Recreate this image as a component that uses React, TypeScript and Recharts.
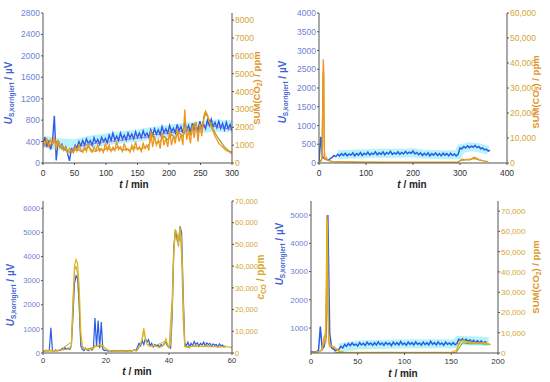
import React from "react";
import { LineChart, Line, XAxis, YAxis } from "recharts";

// ---------- panel 1 (t 0–300 min) ----------
const p1Step = 3;
const p1Blue = [
  350, 480, 300, 420, 250, 380, 880, 50, 420, 300, 350, 250, 300, 180, 40, 260, 200, 330, 280, 400,
  320, 420, 330, 450, 360, 420, 330, 470, 380, 440, 350, 480, 400, 460, 380, 520, 420, 560, 430, 500,
  420, 560, 450, 520, 430, 560, 470, 540, 450, 580, 480, 560, 470, 600, 500, 560, 480, 620, 520, 640,
  540, 620, 530, 680, 560, 640, 560, 700, 580, 650, 560, 720, 600, 680, 560, 760, 600, 700, 580, 740,
  620, 700, 600, 780, 650, 720, 640, 800, 700, 820, 680, 760, 660, 780, 650, 740, 620, 760, 640, 720,
  600,
];
const p1Orange = [
  1200, 1000, 1400, 900, 1300, 1100, 1500, 700, 1300, 900, 1000, 700, 900, 600, 800, 700, 600, 900, 650, 1000,
  700, 600, 900, 650, 1100, 700, 600, 900, 700, 1000, 650, 800, 600, 1100, 700, 1000, 650, 900, 700, 1200,
  750, 900, 650, 1100, 700, 800, 600, 1000, 700, 1200, 750, 900, 650, 1100, 800, 1000, 700, 1800, 900, 1500,
  1000, 1300, 800, 1700, 1000, 1400, 900, 1800, 1000, 1500, 1100, 1900, 1200, 1600, 1000, 3000, 1300, 1800, 1100, 2100,
  1400, 2300, 1200, 2200, 1500, 2600, 2900, 2700, 2300, 2000, 1800, 1500, 1300, 1100, 1000, 900, 800, 700, 650, 600,
  500,
];
const p1OliveStep = 6;
const p1Olive = [
  1000, 1200, 1000, 1300, 1100, 800, 700, 600, 650, 800, 650, 750, 900, 700, 650, 800, 700, 850, 700, 800,
  900, 700, 800, 700, 900, 800, 800, 900, 1000, 1600, 1100, 1200, 1500, 1300, 1600, 1400, 1700, 1500, 2000, 1600,
  2200, 1700, 2000, 2800, 2400, 1900, 1500, 1200, 900, 700, 600,
];
const p1Purple = [
  300, 350, 300, 400, 350, 280, 250, 220, 280, 300, 330, 320, 360, 340, 380, 360, 400, 380, 420, 400,
  430, 420, 450, 440, 470, 460, 480, 470, 500, 520, 540, 530, 560, 550, 570, 560, 600, 580, 620, 600,
  640, 620, 660, 700, 720, 690, 680, 660, 650, 640, 620,
];
const p1CyanT = [0, 25, 50, 75, 100, 125, 150, 175, 200, 225, 250, 275, 300];
const p1Cyan = [400, 350, 330, 400, 440, 480, 510, 560, 600, 640, 670, 700, 680];

// ---------- panel 2 (t 0–365 min) ----------
const p2Step = 4;
const p2Blue = [
  50, 700, 150, 120, 90, 80, 120, 150, 200, 170, 230, 190, 250, 200, 260, 190, 240, 210, 270, 190,
  250, 210, 280, 200, 260, 220, 290, 210, 260, 230, 300, 220, 270, 230, 300, 220, 280, 240, 310, 230,
  270, 240, 300, 230, 280, 240, 310, 250, 290, 260, 320, 240, 280, 220, 270, 200, 260, 210, 270, 190,
  250, 210, 270, 200, 250, 190, 260, 210, 250, 190, 260, 200, 240, 190, 230, 400, 380, 440, 400, 460,
  410, 450, 420, 470, 410, 440, 380, 400, 350, 370, 320, 340,
];
const p2CyanT = [40, 60, 80, 100, 120, 140, 160, 180, 200, 220, 240, 260, 280, 296, 302, 320, 340, 360];
const p2Cyan = [220, 230, 240, 250, 260, 260, 260, 260, 270, 240, 230, 220, 220, 220, 380, 430, 410, 340];
const p2OrangeT = [0, 5, 7, 8, 9, 10, 11, 12, 14, 16, 18, 20, 25, 30, 40, 50, 60, 70, 80, 100, 120, 150, 200, 250, 295, 300, 305, 310, 315, 320, 325, 330, 335, 340, 345, 350, 355, 360];
const p2Orange = [500, 800, 3000, 30000, 41500, 38000, 10000, 2000, 1500, 2200, 1200, 900, 600, 500, 400, 600, 400, 500, 350, 300, 300, 250, 250, 250, 250, 1000, 1500, 1300, 1600, 1400, 1800, 2300, 2000, 1400, 1200, 900, 700, 600];
const p2OliveT = [0, 6, 8, 9, 10, 11, 12, 15, 20, 30, 50, 80, 150, 295, 300, 310, 320, 330, 340, 350, 360];
const p2Olive = [400, 1500, 25000, 37000, 36000, 9000, 1500, 1500, 1000, 600, 500, 400, 300, 300, 900, 1200, 1200, 1800, 1200, 800, 600];

// ---------- panel 3 (t 0–60 min) ----------
const p3Step = 0.5;
const p3Blue = [
  100, 80, 120, 90, 110, 1050, 100, 80, 130, 90, 120, 100, 180, 140, 220, 160, 200, 150, 300, 1500,
  2900, 3200, 3100, 2000, 300, 150, 100, 200, 120, 100, 180, 120, 200, 1450, 250, 1350, 200, 1280, 150, 100,
  120, 80, 100, 90, 70, 110, 80, 100, 70, 90, 110, 80, 100, 70, 90, 110, 80, 100, 130, 90,
  250, 400, 300, 500, 350, 600, 450, 550, 300, 400, 250, 350, 280, 330, 250, 350, 300, 400, 450, 300,
  250, 200, 1500, 4200, 5100, 4800, 4600, 5250, 5000, 2500, 400, 300, 450, 250, 400, 300, 480, 350, 420, 280,
  400, 330, 450, 300, 420, 350, 400, 280, 380, 320, 350, 250, 380, 300, 330, 250, 300,
];
const p3YellowT = [0, 2, 4, 6, 8, 9, 9.5, 10, 10.5, 11, 11.5, 12, 12.5, 14, 16, 16.5, 17, 18, 19, 20, 22, 24, 26, 28, 30, 31, 31.5, 32, 32.5, 33, 34, 35, 36, 37, 38, 38.5, 39, 39.5, 40, 40.5, 41, 41.5, 42, 42.5, 43, 43.5, 44, 44.5, 45, 46, 48, 50, 52, 54, 56, 58, 60];
const p3Yellow = [1000, 1200, 1000, 1500, 1800, 3000, 20000, 40000, 43000, 41000, 30000, 10000, 3000, 1500, 2000, 3500, 3000, 4000, 3500, 1500, 1000, 900, 900, 900, 1500, 4000, 7000, 11500, 7000, 4000, 3000, 3500, 3000, 2500, 3500, 4000, 6500, 4000, 2500, 4000, 20000, 45000, 57000, 55000, 51000, 58000, 52000, 25000, 3000, 2500, 3500, 3000, 3500, 3000, 2800, 3000, 2500];
const p3OliveT = [0, 5, 9, 9.5, 10, 10.5, 11, 11.5, 12, 13, 17, 19, 21, 30, 31.5, 32, 33, 35, 39, 40, 41, 41.5, 42, 43, 43.5, 44, 44.5, 45, 50, 58];
const p3Olive = [800, 1000, 5000, 25000, 38000, 40000, 36000, 20000, 5000, 1500, 3000, 3000, 1000, 1200, 6000, 10000, 4000, 3000, 5500, 2500, 25000, 50000, 55000, 49000, 56000, 45000, 15000, 3000, 3000, 2800];

// ---------- panel 4 (t 0–192 min) ----------
const p4Step = 2;
const p4Blue = [
  150, 160, 150, 170, 200, 1050, 250, 350, 700, 5000, 820, 300, 250, 200, 230, 250, 350, 300, 420, 350,
  450, 380, 470, 390, 430, 360, 480, 400, 460, 380, 500, 410, 470, 390, 480, 400, 510, 410, 470, 390,
  490, 420, 470, 380, 500, 410, 480, 400, 520, 410, 470, 390, 500, 420, 480, 400, 510, 420, 470, 390,
  500, 410, 480, 400, 530, 420, 480, 400, 510, 420, 470, 390, 500, 420, 470, 400, 490, 410, 450, 600,
  560, 620, 550, 600, 520, 580, 500, 560, 480, 550, 470, 540, 460, 520, 480,
];
const p4CyanT = [30, 50, 100, 150, 155, 158, 175, 190];
const p4Cyan = [300, 400, 440, 440, 450, 560, 540, 520];
const p4OrangeT = [0, 8, 12, 14, 15, 16, 16.5, 17, 17.5, 18, 19, 20, 22, 25, 28, 30, 35, 50, 100, 155, 157, 160, 163, 166, 170, 175, 180, 185, 188, 192];
const p4Orange = [300, 500, 1500, 8000, 9000, 5000, 30000, 68000, 60000, 20000, 5000, 3000, 3500, 2500, 1500, 800, 300, 200, 200, 300, 3000, 6000, 6500, 5500, 5000, 5200, 4800, 5000, 4500, 4000];
const p4YellowT = [0, 10, 13, 15, 16, 17, 17.5, 18, 19, 20, 25, 30, 35, 60, 100, 150, 156, 158, 162, 168, 175, 182, 188, 192];
const p4Yellow = [200, 800, 4000, 6000, 20000, 66000, 64000, 40000, 8000, 4000, 3000, 1000, 400, 300, 300, 300, 1500, 5000, 6000, 5500, 5000, 4800, 5000, 4200];
const p4GreenT = [25, 30, 40, 80, 120, 155, 158, 162, 170, 180, 188];
const p4Green = [500, 200, 100, 100, 100, 150, 2000, 5000, 4500, 4600, 4300];

// ---------- helpers ----------
type Pt = { t: number; v: number };
const stepped = (step: number, vals: number[]): Pt[] => vals.map((v, i) => ({ t: i * step, v }));
const paired = (ts: number[], vals: number[]): Pt[] => ts.map((t, i) => ({ t, v: vals[i] }));

const BLUE = "#2d5ce6";
const CYAN = "#86ecf7";
const ORANGE = "#f0951c";
const OLIVE = "#a89a22";
const YELLOW = "#e2b516";
const PURPLE = "#9a4ad2";
const GREEN = "#5fae2e";
const LEFT_TICK = "#6f82d2";
const RIGHT_TICK = "#d6a632";
const AXIS = "#555";
const FONT = "'Liberation Sans', Arial, sans-serif";

const comma = (v: number) => v.toLocaleString("en-US");

interface SeriesDef {
  data: Pt[];
  color: string;
  axis: "l" | "r";
  width?: number;
  opacity?: number;
}

interface PanelProps {
  left: number;
  top: number;
  width: number;
  height: number;
  plotLeft: number;
  plotRight: number;
  plotTop: number;
  xAxisHeight: number;
  xTickGap: number;
  xDomain: [number, number];
  xTicks: number[];
  lDomain: [number, number];
  lTicks: number[];
  rDomain: [number, number];
  rTicks: number[];
  rFormat?: (v: number) => string;
  fontSize: number;
  series: SeriesDef[];
}

function Panel(p: PanelProps) {
  const tickFont = { fontSize: p.fontSize, fontFamily: FONT };
  return (
    <div style={{ position: "absolute", left: p.left, top: p.top }}>
      <LineChart
        width={p.width}
        height={p.height}
        margin={{ top: p.plotTop, right: 0, bottom: 0, left: 0 }}
      >
        <XAxis
          type="number"
          dataKey="t"
          domain={p.xDomain}
          ticks={p.xTicks}
          allowDataOverflow
          height={p.xAxisHeight}
          tickSize={2}
          tickMargin={p.xTickGap}
          stroke={AXIS}
          tick={{ ...tickFont, fill: "#333" }}
        />
        <XAxis xAxisId="top" type="number" dataKey="t" orientation="top" domain={p.xDomain} height={0} tick={false} tickLine={false} stroke={AXIS} />
        <YAxis
          yAxisId="l"
          domain={p.lDomain}
          ticks={p.lTicks}
          allowDataOverflow
          width={p.plotLeft}
          tickSize={2}
          tickMargin={1}
          stroke={AXIS}
          tick={{ ...tickFont, fill: LEFT_TICK }}
        />
        <YAxis
          yAxisId="r"
          orientation="right"
          domain={p.rDomain}
          ticks={p.rTicks}
          allowDataOverflow
          width={p.width - p.plotRight}
          tickSize={2}
          tickMargin={1}
          stroke={AXIS}
          tickFormatter={p.rFormat}
          tick={{ ...tickFont, fill: RIGHT_TICK }}
        />
        {p.series.map((s, i) => (
          <Line
            key={i}
            data={s.data}
            dataKey="v"
            yAxisId={s.axis}
            type="linear"
            stroke={s.color}
            strokeWidth={s.width ?? 1}
            strokeOpacity={s.opacity ?? 1}
            dot={false}
            isAnimationActive={false}
          />
        ))}
      </LineChart>
    </div>
  );
}

const titleStyle = { fontFamily: FONT, fontWeight: 700 as const };

function LeftTitle({ x, y }: { x: number; y: number }) {
  return (
    <text x={x} y={y} transform={`rotate(-90 ${x} ${y})`} textAnchor="middle" fill="#3f62d4" fontSize={10} style={titleStyle}>
      <tspan fontStyle="italic">U</tspan>
      <tspan fontSize={6.5} dy={2}>S,korrigiert</tspan>
      <tspan dy={-2}> / µV</tspan>
    </text>
  );
}

function SumTitle({ x, y }: { x: number; y: number }) {
  return (
    <text x={x} y={y} transform={`rotate(-90 ${x} ${y})`} textAnchor="middle" fill="#e0952a" fontSize={9.5} style={titleStyle}>
      <tspan>SUM(CO</tspan>
      <tspan fontSize={6.5} dy={2}>2</tspan>
      <tspan dy={-2}>) / ppm</tspan>
    </text>
  );
}

function CoTitle({ x, y }: { x: number; y: number }) {
  return (
    <text x={x} y={y} transform={`rotate(-90 ${x} ${y})`} textAnchor="middle" fill="#d8a51e" fontSize={10} style={titleStyle}>
      <tspan fontStyle="italic">c</tspan>
      <tspan fontSize={6.5} dy={2}>CO</tspan>
      <tspan dy={-2}> / ppm</tspan>
    </text>
  );
}

function TTitle({ x, y }: { x: number; y: number }) {
  return (
    <text x={x} y={y} textAnchor="middle" fill="#222" fontSize={10} style={titleStyle}>
      <tspan fontStyle="italic">t</tspan>
      <tspan> / min</tspan>
    </text>
  );
}

export default function App() {
  return (
    <div style={{ position: "absolute", left: 0, top: 0, width: 550, height: 382, background: "#fff", overflow: "hidden" }}>
      <Panel
        left={0} top={0} width={275} height={191}
        plotLeft={43} plotRight={232} plotTop={13} xAxisHeight={28} xTickGap={4.5}
        xDomain={[0, 300]} xTicks={[0, 50, 100, 150, 200, 250, 300]}
        lDomain={[0, 2800]} lTicks={[0, 400, 800, 1200, 1600, 2000, 2400, 2800]}
        rDomain={[0, 8400]} rTicks={[0, 1000, 2000, 3000, 4000, 5000, 6000, 7000, 8000]}
        fontSize={8.5}
        series={[
          { data: paired(p1CyanT, p1Cyan), color: CYAN, axis: "l", width: 12, opacity: 0.6 },
          { data: stepped(p1Step, p1Blue), color: BLUE, axis: "l", width: 1.4 },
          { data: stepped(p1OliveStep, p1Purple), color: PURPLE, axis: "l", opacity: 0.8 },
          { data: stepped(p1OliveStep, p1Olive), color: OLIVE, axis: "r", width: 1.2 },
          { data: stepped(p1Step, p1Orange), color: ORANGE, axis: "r", width: 1.3 },
        ]}
      />
      <Panel
        left={275} top={0} width={275} height={191}
        plotLeft={44} plotRight={232} plotTop={13} xAxisHeight={28} xTickGap={4.5}
        xDomain={[0, 400]} xTicks={[0, 100, 200, 300, 400]}
        lDomain={[0, 4000]} lTicks={[0, 500, 1000, 1500, 2000, 2500, 3000, 3500, 4000]}
        rDomain={[0, 60000]} rTicks={[0, 10000, 20000, 30000, 40000, 50000, 60000]}
        rFormat={comma}
        fontSize={8.5}
        series={[
          { data: paired(p2CyanT, p2Cyan), color: CYAN, axis: "l", width: 9, opacity: 0.6 },
          { data: stepped(p2Step, p2Blue), color: BLUE, axis: "l", width: 1.5 },
          { data: paired(p2OliveT, p2Olive), color: OLIVE, axis: "r", width: 1.2 },
          { data: paired(p2OrangeT, p2Orange), color: ORANGE, axis: "r", width: 1.2 },
        ]}
      />
      <Panel
        left={0} top={191} width={275} height={191}
        plotLeft={43} plotRight={232} plotTop={10} xAxisHeight={29} xTickGap={3}
        xDomain={[0, 60]} xTicks={[0, 20, 40, 60]}
        lDomain={[0, 6300]} lTicks={[0, 1000, 2000, 3000, 4000, 5000, 6000]}
        rDomain={[0, 70000]} rTicks={[0, 10000, 20000, 30000, 40000, 50000, 60000, 70000]}
        rFormat={comma}
        fontSize={7.5}
        series={[
          { data: stepped(p3Step, p3Blue), color: BLUE, axis: "l", width: 1.2 },
          { data: paired(p3OliveT, p3Olive), color: OLIVE, axis: "r", opacity: 0.8 },
          { data: paired(p3YellowT, p3Yellow), color: YELLOW, axis: "r", width: 1.2 },
        ]}
      />
      <Panel
        left={275} top={191} width={275} height={191}
        plotLeft={36} plotRight={223} plotTop={10} xAxisHeight={29} xTickGap={3}
        xDomain={[0, 200]} xTicks={[0, 50, 100, 150, 200]}
        lDomain={[115, 5500]} lTicks={[1000, 2000, 3000, 4000, 5000]}
        rDomain={[0, 75000]} rTicks={[0, 10000, 20000, 30000, 40000, 50000, 60000, 70000]}
        rFormat={comma}
        fontSize={8}
        series={[
          { data: paired(p4CyanT, p4Cyan), color: CYAN, axis: "l", width: 9, opacity: 0.6 },
          { data: paired(p4GreenT, p4Green), color: GREEN, axis: "r" },
          { data: stepped(p4Step, p4Blue), color: BLUE, axis: "l", width: 1.5 },
          { data: paired(p4OrangeT, p4Orange), color: ORANGE, axis: "r", width: 1.2 },
          { data: paired(p4YellowT, p4Yellow), color: YELLOW, axis: "r", opacity: 0.9, width: 1.2 },
        ]}
      />
      <svg width={550} height={382} style={{ position: "absolute", left: 0, top: 0, pointerEvents: "none" }}>
        <LeftTitle x={12} y={93} />
        <SumTitle x={260} y={88} />
        <TTitle x={134} y={188} />
        <LeftTitle x={286} y={92} />
        <SumTitle x={539} y={92} />
        <TTitle x={412} y={188} />
        <LeftTitle x={14} y={295} />
        <CoTitle x={264} y={277} />
        <TTitle x={137} y={375} />
        <LeftTitle x={283} y={254} />
        <SumTitle x={539} y={277} />
        <TTitle x={403} y={377} />
      </svg>
    </div>
  );
}
